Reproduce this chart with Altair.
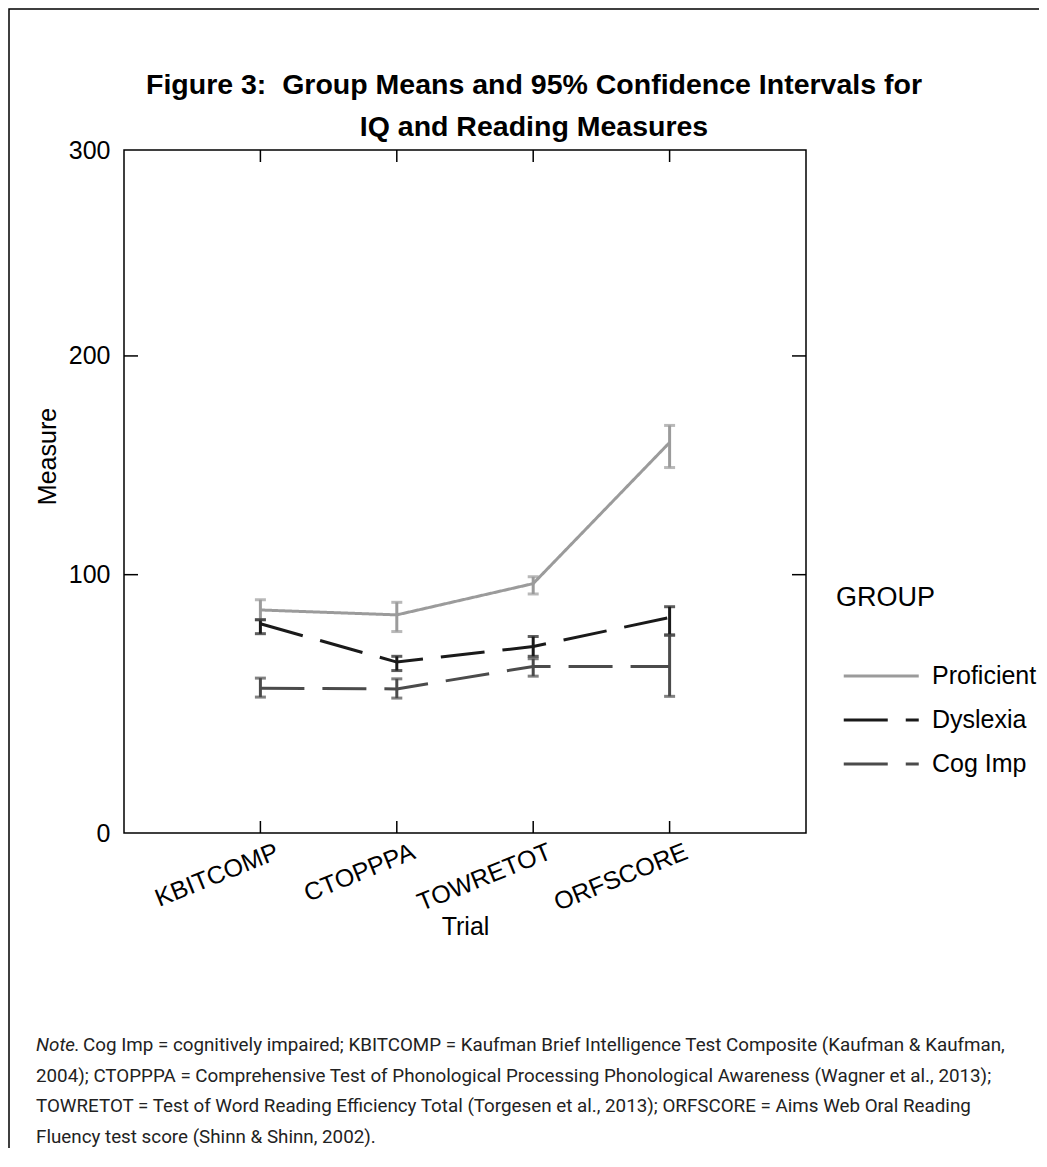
import altair as alt
import pandas as pd

# ---------------- data ----------------
trials = ["KBITCOMP", "CTOPPPA", "TOWRETOT", "ORFSCORE"]
groups = ["Proficient", "Dyslexia", "Cog Imp"]

prof_mean = [84.7, 82.6, 96.1, 159.5]
prof_lo = [80.6, 75.5, 91.6, 148.0]
prof_hi = [89.1, 88.0, 99.1, 167.4]

dys_mean = [78.8, 62.7, 69.2, 81.5]
dys_lo = [74.6, 59.2, 65.1, 74.1]
dys_hi = [80.5, 65.1, 73.4, 86.1]

cog_mean = [52.0, 51.7, 60.9, 60.9]
cog_lo = [48.4, 48.0, 56.9, 48.7]
cog_hi = [56.1, 55.8, 64.1, 73.9]

y_ticks = [0, 100, 200, 300]
inner_y_ticks = [100, 200]

title_lines = ["Figure 3:\u00a0 Group Means and 95% Confidence Intervals for",
               "IQ and Reading Measures"]
note_lead = "Note."
note_line1 = ("Cog Imp = cognitively impaired; KBITCOMP = Kaufman Brief Intelligence "
              "Test Composite (Kaufman & Kaufman,")
note_rest = [
    "2004); CTOPPPA = Comprehensive Test of Phonological Processing Phonological Awareness (Wagner et al., 2013);",
    "TOWRETOT = Test of Word Reading Efficiency Total (Torgesen et al., 2013); ORFSCORE = Aims Web Oral Reading",
    "Fluency test score (Shinn & Shinn, 2002).",
]

rows = []
for g, ms, los, his in zip(groups, [prof_mean, dys_mean, cog_mean],
                           [prof_lo, dys_lo, cog_lo], [prof_hi, dys_hi, cog_hi]):
    for t, m, lo, hi in zip(trials, ms, los, his):
        rows.append({"Trial": t, "Group": g, "Mean": m, "Lo": lo, "Hi": hi})
df = pd.DataFrame(rows)

# ---------------- layout ----------------
W, H = 682, 683
FONT = "Liberation Sans"
NOTE_FONT = "Roboto"
FS = 25

x_scale = alt.Scale(type="point", padding=1)
y_scale = alt.Scale(type="pow", exponent=0.885, domain=[0, 300], nice=False)
color_scale = alt.Scale(domain=groups, range=["#9b9b9b", "#1a1a1a", "#4b4b4b"])
dash_scale = alt.Scale(domain=groups, range=[[1, 0], [44, 18], [44, 18]])

x_axis = alt.Axis(labelAngle=-22, labelAlign="right", labelBaseline="top",
                  labelFontSize=FS, labelFont=FONT, labelColor="black",
                  labelPadding=6, labelOffset=12, ticks=False, domain=False,
                  titleFontSize=FS, titleFont=FONT, titleFontWeight="normal",
                  titleColor="black", titleY=93, titleBaseline="middle")
y_axis = alt.Axis(values=y_ticks, labelFontSize=FS, labelFont=FONT,
                  labelColor="black", labelPadding=14, ticks=False, domain=False,
                  grid=False, titleFontSize=FS, titleFont=FONT,
                  titleFontWeight="normal", titleColor="black",
                  titleX=-77, titleY=306, titleBaseline="middle")

X = alt.X("Trial:N", sort=trials, scale=x_scale, axis=x_axis, title="Trial")


def Y(field):
    return alt.Y(field, type="quantitative", scale=y_scale, axis=y_axis, title="Measure")


legend = alt.Legend(orient="none", legendX=712, legendY=435, title="GROUP",
                    titleFontSize=27, titleFont=FONT, titleFontWeight="normal",
                    titleColor="black", titlePadding=50, labelFontSize=FS,
                    labelFont=FONT, labelColor="black",
                    symbolType="M-0.5,0H5.5", symbolSize=625, symbolStrokeWidth=3,
                    symbolFillColor="transparent", labelOffset=68,
                    rowPadding=17, padding=0)

color = alt.Color("Group:N", scale=color_scale, sort=groups, legend=legend, title="GROUP")
dash = alt.StrokeDash("Group:N", scale=dash_scale, sort=groups, legend=legend, title="GROUP")
color_nl = alt.Color("Group:N", scale=color_scale, legend=None)

base = alt.Chart(df)

lines = base.mark_line(strokeWidth=3).encode(x=X, y=Y("Mean"), color=color, strokeDash=dash)
bars = base.mark_rule(strokeWidth=3).encode(x=X, y=Y("Lo"), y2="Hi:Q", color=color_nl)
cap_lo = base.mark_tick(thickness=3, size=11).encode(x=X, y=Y("Lo"), color=color_nl)
cap_hi = base.mark_tick(thickness=3, size=11).encode(x=X, y=Y("Hi"), color=color_nl)

ytk = alt.Chart(pd.DataFrame({"v": inner_y_ticks}))
ytick_l = ytk.mark_rule(color="black", strokeWidth=1.5).encode(
    y=Y("v"), x=alt.value(0), x2=alt.value(14))
ytick_r = ytk.mark_rule(color="black", strokeWidth=1.5).encode(
    y=Y("v"), x=alt.value(W - 14), x2=alt.value(W))

xtk = alt.Chart(pd.DataFrame({"Trial": trials}))
xtick_t = xtk.mark_rule(color="black", strokeWidth=1.5).encode(
    x=X, y=alt.value(0), y2=alt.value(12))
xtick_b = xtk.mark_rule(color="black", strokeWidth=1.5).encode(
    x=X, y=alt.value(H - 12), y2=alt.value(H))

one = alt.Chart(pd.DataFrame({"a": [0]}))

title_t = one.mark_text(font=FONT, fontSize=28.5, fontWeight="bold", align="center",
                        baseline="middle", color="black", lineHeight=42).encode(
    x=alt.value(410), y=alt.value(-65), text=alt.value(title_lines))

NFS = 18.8
note_a = one.mark_text(font=NOTE_FONT, fontSize=NFS, fontStyle="italic", align="left",
                       baseline="middle", color="#222222").encode(
    x=alt.value(-88), y=alt.value(895), text=alt.value(note_lead))
note_b = one.mark_text(font=NOTE_FONT, fontSize=NFS, align="left",
                       baseline="middle", color="#222222").encode(
    x=alt.value(-41), y=alt.value(895), text=alt.value(note_line1))
note_c = one.mark_text(font=NOTE_FONT, fontSize=NFS, align="left", baseline="middle",
                       color="#222222", lineHeight=30.5).encode(
    x=alt.value(-88), y=alt.value(925.5), text=alt.value(note_rest))

frame = one.mark_rect(filled=False, stroke="black", strokeWidth=1.5).encode(
    x=alt.value(-115), x2=alt.value(W + 400), y=alt.value(-141), y2=alt.value(1007))

chart = alt.layer(
    frame, title_t, xtick_t, xtick_b, ytick_l, ytick_r, lines, bars, cap_lo, cap_hi,
    note_a, note_b, note_c
).properties(
    width=W, height=H,
    padding={"left": 116, "top": 142, "right": 233, "bottom": 315},
    autosize=alt.AutoSizeParams(type="none"),
).configure(
    background="white",
    view=alt.ViewConfig(stroke="black", strokeWidth=1.5),
)

chart.save("out.html", embed_options={"renderer": "svg", "actions": False})
